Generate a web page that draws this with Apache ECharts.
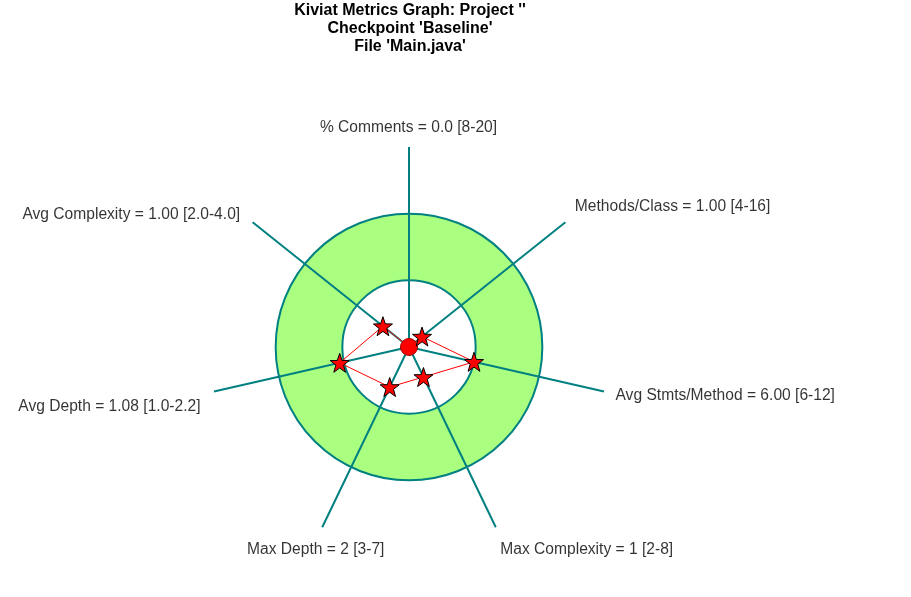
<!DOCTYPE html>
<html>
<head>
<meta charset="utf-8">
<script src="https://cdn.jsdelivr.net/npm/echarts@6/dist/echarts.min.js"></script>
<style>html,body{margin:0;padding:0;background:#fff;}#c{width:911px;height:597px;}</style>
</head>
<body>
<div id="c"></div>
<script>
// ---- data ----
const metricNames = ['% Comments', 'Methods/Class', 'Avg Stmts/Method', 'Max Complexity', 'Max Depth', 'Avg Depth', 'Avg Complexity'];
const metricValues = [0.0, 1.00, 6.00, 1, 2, 1.08, 1.00];
const valueDecimals = [1, 2, 2, 0, 0, 2, 2];
const rangeMin = [8, 4, 6, 2, 3, 1.0, 2.0];
const rangeMax = [20, 16, 12, 8, 7, 2.2, 4.0];
const rangeDecimals = [0, 0, 0, 0, 0, 1, 1];
const titleLines = ["Kiviat Metrics Graph: Project ''", "Checkpoint 'Baseline'", "File 'Main.java'"];

// ---- scale: 0..min -> 0..1, min..max -> 1..2, beyond -> 2..3 ----
function norm(v, lo, hi) {
  if (v <= lo) return lo > 0 ? v / lo : 0;
  if (v <= hi) return 1 + (v - lo) / (hi - lo);
  return Math.min(3, 2 + (v - hi) / (hi - lo));
}
const n = metricNames.length;
const step = 360 / n;
const angles = metricNames.map((_, i) => i * step);

const STAR = 'path://M0,-10 L2.35,-3.24 L9.51,-3.09 L3.8,1.24 L5.88,8.09 L0,4 L-5.88,8.09 L-3.8,1.24 L-9.51,-3.09 L-2.35,-3.24 Z';

const lineData = metricValues.map((v, i) => {
  const r = norm(v, rangeMin[i], rangeMax[i]);
  const isZero = r === 0;
  return {
    value: [r, angles[i]],
    symbol: isZero ? 'circle' : STAR,
    symbolSize: isZero ? 17 : 19,
    itemStyle: isZero ? {color: '#ff0000', borderColor: '#a00000', borderWidth: 1}
                      : {color: '#ff0000', borderColor: '#000000', borderWidth: 1}
  };
});
lineData.push({value: lineData[0].value.slice(), symbol: 'none'});

const labelStyles = [
  {align: 'center', offset: [0, -19]},
  {align: 'left', offset: [10, -15]},
  {align: 'left', offset: [12, 5]},
  {align: 'left', offset: [5, 23]},
  {align: 'center', offset: [-6, 23]},
  {align: 'right', offset: [-13, 16]},
  {align: 'right', offset: [-12, -7]}
];
const labelData = metricNames.map((name, i) => ({
  value: [3, angles[i]],
  name: name + ' = ' + metricValues[i].toFixed(valueDecimals[i]) + ' [' +
        rangeMin[i].toFixed(rangeDecimals[i]) + '-' + rangeMax[i].toFixed(rangeDecimals[i]) + ']',
  label: {
    show: true,
    position: labelStyles[i].offset,
    align: labelStyles[i].align,
    verticalAlign: 'middle'
  }
}));

const axisHidden = {axisLine: {show: false}, axisTick: {show: false}, axisLabel: {show: false}};

const chart = echarts.init(document.getElementById('c'), null, {renderer: 'canvas'});
chart.setOption({
  animation: false,
  backgroundColor: '#ffffff',
  title: {
    text: titleLines.join('\n'),
    left: 405,
    textAlign: 'center',
    top: -3,
    textStyle: {fontFamily: '"Liberation Sans", Arial, sans-serif', fontSize: 16, fontWeight: 'bold', color: '#000', lineHeight: 18}
  },
  polar: [
    {center: [409, 347], radius: 200},
    {center: [409, 347], radius: 200}
  ],
  angleAxis: [
    Object.assign({type: 'value', polarIndex: 0, min: 0, max: 360, interval: step, startAngle: 90, clockwise: true, z: 0,
      splitLine: {show: false}}, axisHidden),
    Object.assign({type: 'value', polarIndex: 1, min: 0, max: 360, interval: step, startAngle: 90, clockwise: true, z: 2,
      splitLine: {show: true, lineStyle: {color: '#008080', width: 2}}}, axisHidden)
  ],
  radiusAxis: [
    Object.assign({type: 'value', polarIndex: 0, min: 0, max: 3, interval: 1, z: 0,
      splitLine: {show: false},
      splitArea: {show: true, areaStyle: {color: ['rgba(0,0,0,0)', '#aaff80', 'rgba(0,0,0,0)']}}}, axisHidden),
    Object.assign({type: 'value', polarIndex: 1, min: 0, max: 3, interval: 1, z: 1,
      splitLine: {show: true, lineStyle: {color: ['rgba(0,0,0,0)', '#008080', '#008080', 'rgba(0,0,0,0)'], width: 2}},
      splitArea: {show: false}}, axisHidden)
  ],
  series: [
    {
      type: 'line', coordinateSystem: 'polar', polarIndex: 1, z: 5,
      data: lineData,
      lineStyle: {color: '#ff0000', width: 1},
      itemStyle: {color: '#ff0000'},
      showAllSymbol: true
    },
    {
      type: 'scatter', coordinateSystem: 'polar', polarIndex: 1, z: 6,
      data: labelData,
      symbolSize: 1,
      itemStyle: {color: 'rgba(0,0,0,0)'},
      label: {
        show: true,
        formatter: p => p.name,
        fontFamily: '"Liberation Sans", Arial, sans-serif',
        fontSize: 15.6,
        color: '#000000'
      }
    }
  ]
});
</script>
</body>
</html>
